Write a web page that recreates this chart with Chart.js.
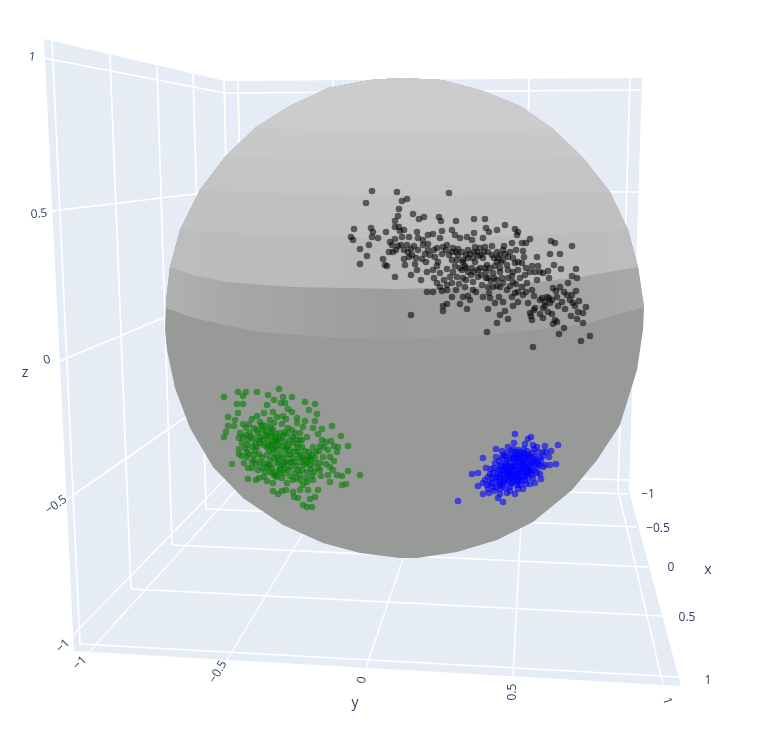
<!DOCTYPE html>
<html>
<head>
<meta charset="utf-8">
<script src="https://cdn.jsdelivr.net/npm/chart.js@4/dist/chart.umd.min.js"></script>
<style>
  html, body { margin: 0; padding: 0; background: #fff; }
  canvas { display: block; }
</style>
</head>
<body>
<canvas id="chart" width="771" height="734"></canvas>
<script>
// everything below is in the projected plane of the 3D scene

const blackPts = [[372,191],[397,192],[449,193],[407,199],[402,201],[366,203],[399,209],[398,216],[413,214],[419,219],[424,217],[439,217],[441,221],[456,221],[474,219],[485,219],[395,221],[395,227],[399,227],[400,231],[404,230],[354,229],[371,228],[373,232],[386,232],[417,232],[442,231],[452,230],[455,235],[474,233],[486,228],[489,232],[497,230],[505,225],[515,229],[518,232],[517,235],[530,239],[551,241],[555,243],[572,246],[351,237],[353,240],[372,237],[378,238],[369,245],[360,249],[367,256],[360,264],[383,259],[385,265],[387,266],[395,277],[390,242],[392,245],[395,239],[402,237],[409,237],[401,245],[407,245],[389,252],[393,252],[411,249],[404,259],[409,257],[412,255],[405,265],[415,264],[417,270],[411,275],[421,280],[427,272],[422,259],[426,262],[418,238],[423,240],[428,235],[433,234],[440,238],[428,250],[423,245],[435,257],[437,266],[440,273],[447,269],[434,278],[437,283],[427,292],[433,292],[442,291],[447,285],[452,283],[456,290],[452,297],[447,304],[443,306],[443,311],[460,304],[467,309],[411,315],[488,309],[500,315],[508,319],[497,323],[487,332],[533,347],[581,341],[590,336],[559,334],[564,328],[553,324],[557,322],[583,323],[577,319],[583,313],[586,307],[578,312],[571,316],[573,303],[579,301],[576,291],[577,278],[572,276],[576,269],[568,283],[561,269],[554,265],[548,271],[549,278],[550,254],[560,254],[537,257],[524,257],[523,251],[522,243],[526,243],[516,250],[512,243],[504,246],[492,246],[483,238],[472,240],[467,237],[460,238],[443,247],[447,245],[453,248],[463,260],[462,270],[468,258],[473,258],[477,252],[483,258],[480,268],[485,268],[488,278],[493,273],[500,268],[503,260],[508,257],[507,265],[513,272],[518,270],[508,278],[513,282],[522,287],[525,275],[532,266],[538,266],[540,272],[532,290],[523,295],[515,293],[507,290],[500,287],[493,287],[489,293],[482,285],[473,282],[465,287],[463,297],[470,300],[483,297],[499,297],[495,303],[503,302],[505,311],[513,306],[518,302],[528,303],[542,298],[547,297],[553,288],[560,287],[557,297],[567,295],[550,303],[543,308],[535,308],[530,313],[532,320],[543,318],[552,314],[558,306],[565,309],[572,295],[555,320],[457,260],[452,260],[458,255],[468,250],[475,247],[480,248],[492,255],[497,262],[487,265],[472,268],[453,272],[457,277],[463,278],[478,277],[497,280],[503,283],[520,278],[527,283],[537,280],[543,273],[522,263],[515,263],[497,252],[485,247],[437,248],[455,266],[465,266],[440,287],[447,290],[473,290],[488,287],[512,297],[498,258],[463,262],[466,268],[475,262],[481,255],[490,268],[495,266],[501,262],[505,254],[486,272],[478,270],[460,268],[500,272],[494,278],[471,275],[456,252],[430,255],[428,244],[416,258],[534,310],[531,316],[545,306],[552,300],[510,286],[518,292],[446,250],[449,255],[452,252],[458,249],[462,252],[466,255],[470,254],[474,252],[478,256],[484,252],[488,252],[494,258],[500,255],[503,250],[510,252],[513,258],[518,262],[526,268],[530,272],[535,272],[526,292],[534,296],[540,300],[545,302],[549,298],[556,291],[564,292],[570,300],[575,306],[562,302],[548,312],[540,314],[468,272],[474,272],[481,275],[486,278],[491,281],[497,286],[502,278],[508,270],[512,276],[516,284],[466,280],[459,284],[450,277],[444,280],[438,262],[442,254],[434,250],[425,254],[418,250],[414,246],[408,252],[404,250],[398,246],[396,250],[433,270],[468,296],[476,292],[490,298]];

const greenPts = [[224,397],[238,392],[243,396],[246,392],[257,392],[279,389],[268,395],[283,397],[292,397],[274,400],[237,404],[243,404],[267,405],[281,403],[285,403],[305,402],[315,404],[309,410],[317,414],[288,409],[292,412],[238,413],[264,413],[273,412],[228,417],[235,420],[252,419],[257,416],[283,416],[286,419],[297,418],[305,421],[315,421],[228,426],[234,426],[243,424],[260,422],[270,420],[277,417],[332,426],[322,429],[313,428],[226,432],[224,437],[240,433],[239,438],[250,433],[257,430],[263,430],[271,428],[288,428],[297,423],[303,427],[318,434],[341,436],[331,441],[326,442],[253,438],[260,437],[267,435],[275,437],[273,442],[278,445],[295,433],[300,440],[307,437],[247,445],[252,447],[260,443],[267,447],[285,442],[287,448],[293,443],[302,447],[313,447],[320,446],[324,447],[334,446],[338,447],[348,446],[337,452],[239,449],[239,454],[247,452],[247,457],[254,455],[254,460],[259,454],[267,455],[273,453],[280,455],[287,455],[298,452],[308,457],[319,451],[323,457],[330,457],[334,461],[232,464],[244,463],[252,468],[258,470],[268,465],[272,468],[277,463],[283,465],[292,462],[302,462],[310,458],[315,463],[320,463],[330,467],[333,470],[348,471],[360,475],[342,476],[337,475],[328,475],[321,476],[314,472],[307,472],[298,470],[288,470],[280,470],[248,479],[256,480],[259,478],[264,477],[267,481],[277,477],[282,478],[287,483],[293,480],[300,480],[307,482],[313,480],[330,482],[342,485],[346,484],[273,483],[273,491],[278,494],[282,491],[293,492],[300,490],[308,490],[318,490],[294,497],[298,498],[310,499],[315,497],[303,505],[307,507],[312,507],[275,440],[272,445],[263,440],[285,450],[288,445],[297,448],[303,457],[310,460],[270,460],[277,457],[267,467],[280,467],[295,462],[287,462],[258,433],[250,437],[243,437],[263,425],[273,430],[280,433],[293,437],[285,432],[275,447],[255,450],[260,462],[307,463],[295,473],[271,436],[277,441],[269,450],[283,458],[290,455],[299,458],[304,465],[284,473],[276,472],[262,457],[257,447],[248,440],[266,431],[281,438],[291,467],[300,475],[311,469],[246,428],[249,424],[254,428],[261,426],[265,436],[268,440],[271,433],[276,434],[279,440],[283,436],[287,434],[290,440],[296,439],[298,444],[302,440],[305,451],[309,452],[312,455],[315,458],[318,468],[312,476],[306,478],[302,470],[297,466],[293,458],[290,462],[285,468],[280,473],[275,476],[270,472],[264,463],[262,468],[256,464],[252,462],[249,454],[245,448],[242,443],[246,435],[255,443],[259,440],[264,445],[269,445],[273,449],[278,450],[282,446],[290,450],[294,452],[300,455],[305,460],[310,465],[316,452],[322,440],[328,450],[326,464],[320,470],[284,462],[279,461],[274,458],[270,465],[265,472],[273,474],[290,476],[296,478],[303,485],[286,490],[268,426],[274,423],[282,424],[292,430],[300,433],[248,468],[242,456]];

const bluePts = [[458,501],[515,434],[531,437],[528,439],[558,445],[496,449],[502,451],[483,458],[496,457],[508,447],[514,443],[525,444],[533,445],[545,446],[551,451],[543,452],[549,457],[556,464],[550,465],[545,465],[495,463],[486,468],[491,469],[472,474],[478,473],[488,477],[483,483],[478,486],[487,485],[483,494],[489,493],[498,498],[503,502],[496,488],[500,489],[507,493],[515,494],[523,489],[530,484],[535,483],[541,479],[540,474],[537,468],[543,467],[533,462],[540,458],[528,455],[520,452],[513,455],[507,460],[500,467],[493,473],[490,483],[503,483],[510,487],[517,485],[525,480],[532,475],[527,467],[520,463],[513,468],[507,472],[500,477],[497,482],[510,478],[518,475],[525,472],[517,458],[523,460],[532,453],[537,447],[510,463],[505,467],[515,473],[520,480],[505,488],[512,482],[528,462],[503,475],[508,475],[513,477],[522,468],[515,463],[500,472],[497,477],[535,457],[538,463],[523,453],[518,450],[507,453],[502,458],[492,478],[510,470],[517,470],[525,465],[532,468],[533,478],[528,478],[520,485],[500,485],[493,487],[506,478],[515,455],[512,458],[519,466],[526,457],[505,463],[511,474],[516,479],[522,476],[498,474],[504,480],[530,470],[535,464],[527,451],[519,456],[495,478],[498,470],[501,465],[504,470],[506,465],[509,458],[511,467],[514,460],[516,466],[518,461],[520,458],[522,463],[524,458],[526,462],[529,458],[531,463],[534,459],[536,461],[529,466],[531,472],[527,474],[524,470],[521,472],[519,478],[516,476],[513,471],[510,466],[507,469],[504,474],[501,479],[499,483],[502,486],[505,482],[508,481],[511,484],[514,481],[517,482],[522,481],[525,476],[528,470],[534,471],[537,473],[539,465],[541,461],[530,456],[525,454],[521,455],[516,452],[511,451],[505,456],[499,461],[494,468],[490,474],[485,480],[492,483],[488,489],[494,491],[500,494],[510,491],[518,489],[526,484],[543,456],[546,452],[538,452],[534,449],[524,449],[513,449],[503,455],[518,473],[512,475],[508,472],[514,466],[520,470],[523,466],[528,473],[515,458],[509,476],[503,470]];

const leftWall  = [[44,39],[225,81],[235,478],[74,651]];
const backWall  = [[225,81],[642,78],[629,491],[235,478]];
const floorWall = [[74,651],[235,478],[629,491],[681,686]];

const wallGrid = [
  [44,58,225,93],[52,211,228,190],[60,361,230,290],[66,500,232,385],[73,635,234,470],
  [52,41,80,644],[110,55,131,589],[157,66,172,545],[193,74,206,509],[224,81,233,480],
  [225,93,642,90],[228,190,640,192],[230,290,637,292],[232,385,633,388],[234,470,630,480],
  [238,81,246,479],[333,81,334,482],[430,79,428,484],[529,78,523,487],[630,78,618,490]
];
const floorGrid = [
  [89,652,246,479],[227,660,334,482],[366,668,428,484],[513,676,523,487],[663,685,618,490],
  [80,644,679,677],[131,589,663,616],[173,545,648,567],[206,509,637,527],[233,480,628,494]
];

const sphereOutline = [[165,330],[166,300],[170,267],[180,230],[200,190],[225,157],[255,128],[288,107],[328,88],[370,80],[400,78],[442,80],[483,91],[520,106],[553,129],[583,158],[610,192],[628,230],[638,267],[644,307],[643,330],[637,370],[620,425],[597,460],[572,490],[533,522],[497,540],[457,552],[417,558],[400,558],[360,553],[323,543],[283,525],[243,498],[213,467],[190,428],[175,388],[167,350]];
const sphereArc = sphereOutline.slice(0, 20);

const bandLow  = [[166,308],[193,318],[260,332],[327,337],[400,339],[483,335],[580,325],[644,307]];
const bandHigh = [[170,267],[193,275],[227,282],[293,287],[400,289],[500,286],[580,277],[638,267]];
const capEdges = [
  [[180,230],[290,236],[400,238],[520,236],[628,230]],
  [[200,190],[300,194],[400,195],[510,194],[610,192]],
  [[225,157],[310,160],[400,160],[500,160],[583,158]],
  [[255,128],[330,130],[400,130],[480,130],[553,129]]
];
const capColors = ['#c0c0c0', '#c4c4c4', '#c8c8c8', '#cccccc'];

const zTickLabels = ['1', '0.5', '0', '\u22120.5', '\u22121'];
const yTickLabels = ['\u22121', '\u22120.5', '0', '0.5', '1'];
const xTickLabels = ['\u22121', '\u22120.5', '0', '0.5', '1'];
const zTickAt = [[32,57,8],[39,214,-5],[47,360,-18],[56,505,-36],[63,646,-45]];
const yTickAt = [[80,663,-45],[218,672,-60],[362,680,-80],[513,692,-90],[667,701,72]];
const xTickAt = [[648,495,0],[658,529,0],[671,568,0],[687,618,0],[708,681,0]];
const axisTitles = [['x',708,570],['y',355,703],['z',25,373]];

const canvas = document.getElementById('chart');
const ctx = canvas.getContext('2d');

function toPoints(list) {
  return list.map(p => ({ x: p[0], y: p[1] }));
}

function segments(list) {
  const out = [];
  list.forEach(s => {
    out.push({ x: s[0], y: s[1] }, { x: s[2], y: s[3] }, { x: NaN, y: NaN });
  });
  return out;
}

// part of the sphere above a latitude edge
function capShape(edge) {
  const top = edge[0][1] < edge[edge.length - 1][1] ? edge[0][1] : edge[edge.length - 1][1];
  const arc = sphereArc.filter(p => p[1] < top);
  return toPoints(arc.concat(edge.slice().reverse()));
}

function shape(data, color) {
  return { data, backgroundColor: color, borderWidth: 0, showLine: true, fill: 'shape', pointRadius: 0, tension: 0 };
}

function lines(data, color, width) {
  return { data, borderColor: color, borderWidth: width, showLine: true, fill: false, pointRadius: 0, tension: 0, spanGaps: false };
}

function dots(list, color) {
  return { data: toPoints(list), showLine: false, pointRadius: 3.3, pointBorderWidth: 0, pointBackgroundColor: color };
}

const bandFill = ctx.createLinearGradient(165, 0, 645, 0);
bandFill.addColorStop(0, '#b0b1b1');
bandFill.addColorStop(0.15, '#a6a7a7');
bandFill.addColorStop(0.45, '#9c9d9d');
bandFill.addColorStop(0.75, '#a0a1a1');
bandFill.addColorStop(1, '#a8a9a9');

const upperFill = ctx.createLinearGradient(165, 0, 645, 0);
upperFill.addColorStop(0, '#bcbdbd');
upperFill.addColorStop(0.5, '#b9b9b9');
upperFill.addColorStop(1, '#bdbdbd');

// paint order, back to front
const painted = [
  shape(toPoints(leftWall), '#e5ecf6'),
  shape(toPoints(backWall), '#e5ecf6'),
  shape(toPoints(floorWall), '#e5ecf6'),
  lines(segments(wallGrid), '#ffffff', 1.6),
  lines(segments(floorGrid), '#ffffff', 1.4),
  shape(toPoints(sphereOutline), '#989a98'),
  shape(capShape(bandLow), bandFill),
  shape(capShape(bandHigh), upperFill)
];
capEdges.forEach((edge, i) => painted.push(shape(capShape(edge), capColors[i])));
painted.push(
  dots(blackPts, 'rgba(0,0,0,0.55)'),
  dots(greenPts, 'rgba(0,128,0,0.58)'),
  dots(bluePts, 'rgba(0,0,255,0.58)')
);

const sceneText = {
  id: 'sceneText',
  afterDraw(chart) {
    const c = chart.ctx;
    const sx = chart.scales.x, sy = chart.scales.y;
    const put = (text, at, size) => {
      c.save();
      c.translate(sx.getPixelForValue(at[0]), sy.getPixelForValue(at[1]));
      c.rotate((at[2] || 0) * Math.PI / 180);
      c.font = size + 'px "Open Sans", sans-serif';
      c.fillStyle = '#2a3f5f';
      c.textAlign = 'center';
      c.textBaseline = 'middle';
      c.fillText(text, 0, 0);
      c.restore();
    };
    zTickLabels.forEach((t, i) => put(t, zTickAt[i], 12));
    yTickLabels.forEach((t, i) => put(t, yTickAt[i], 12));
    xTickLabels.forEach((t, i) => put(t, xTickAt[i], 12));
    axisTitles.forEach(t => put(t[0], [t[1], t[2], 0], 14));
  }
};

new Chart(canvas, {
  type: 'scatter',
  data: { datasets: painted.slice().reverse() },
  options: {
    responsive: false,
    animation: false,
    events: [],
    layout: { padding: 0, autoPadding: false },
    plugins: { legend: { display: false }, tooltip: { enabled: false } },
    scales: {
      x: { type: 'linear', min: 0, max: 771, display: false },
      y: { type: 'linear', min: 0, max: 734, reverse: true, display: false }
    }
  },
  plugins: [sceneText]
});
</script>
</body>
</html>
